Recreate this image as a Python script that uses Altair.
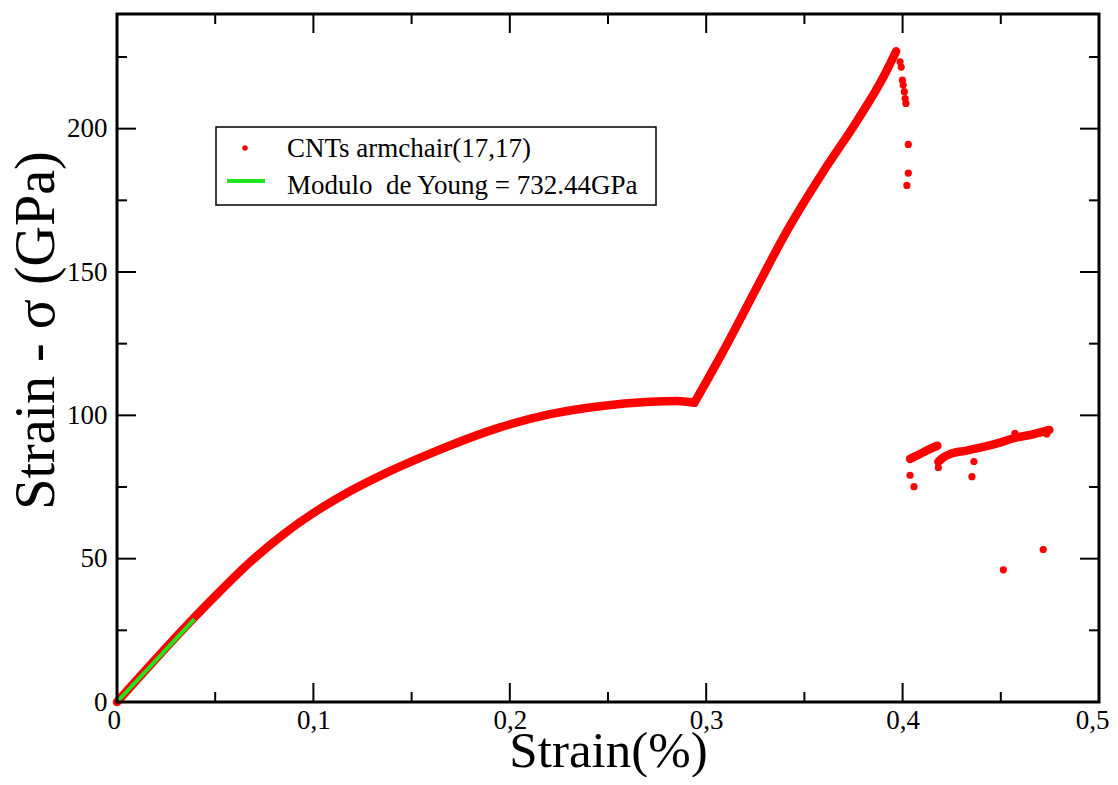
import altair as alt
import pandas as pd

# ---- data ----
# main curve, part 1: elastic region and plastic plateau up to the kink
curve1_strain = [0.0, 0.0394, 0.0509, 0.0679, 0.0849, 0.1018, 0.1188, 0.1358, 0.1527,
                 0.1696, 0.1950, 0.2205, 0.2459, 0.2714, 0.2850, 0.2940]
curve1_stress = [0.0, 29.5, 37.6, 48.9, 58.6, 66.7, 73.6, 79.5, 84.7,
                 89.5, 95.8, 100.4, 103.2, 104.7, 105.0, 104.4]

# main curve, part 2: second stiff rise up to the peak
curve2_strain = [0.2940, 0.3087, 0.3257, 0.3410, 0.3596, 0.3766, 0.3902, 0.3967]
curve2_stress = [104.4, 122.4, 144.5, 164.2, 185.0, 202.5, 218.0, 227.0]

# post-fracture band 1
band1_strain = [0.4038, 0.4070, 0.4106, 0.4140, 0.4177]
band1_stress = [84.8, 85.9, 87.1, 88.3, 89.4]

# post-fracture band 2
band2_strain = [0.4182, 0.4207, 0.4241, 0.4326, 0.4411, 0.4496, 0.4581, 0.4665, 0.4747]
band2_stress = [83.8, 85.3, 86.5, 87.7, 89.0, 90.5, 92.3, 93.4, 94.9]

# scattered points after the peak
drop_strain = [0.3987, 0.3993, 0.3999, 0.4003, 0.4009, 0.4013, 0.4017, 0.4029, 0.4029, 0.4022,
               0.4038, 0.4058, 0.4182, 0.4353, 0.4363, 0.4513, 0.4716, 0.4572, 0.4734]
drop_stress = [223.3, 221.5, 216.9, 215.2, 212.9, 210.5, 208.8, 194.5, 184.5, 180.2,
               79.1, 75.1, 81.8, 78.6, 83.9, 46.1, 53.2, 93.7, 93.5]

# linear fit (Young's modulus)
fit_strain = [0.0, 0.0394]
fit_stress = [0.0, 28.9]

# axis ticks
x_major = [0.0, 0.1, 0.2, 0.3, 0.4, 0.5]
x_minor = [0.05, 0.15, 0.25, 0.35, 0.45]
y_major = [0, 50, 100, 150, 200]
y_minor = [25, 75, 125, 175, 225]

legend_labels = ["CNTs armchair(17,17)", "Modulo\u00a0 de Young = 732.44GPa"]

# ---- build tables ----
segs = []
for k, (xs_, ys_) in enumerate([(curve1_strain, curve1_stress),
                                (curve2_strain, curve2_stress),
                                (band1_strain, band1_stress),
                                (band2_strain, band2_stress)]):
    for i, (a, b) in enumerate(zip(xs_, ys_)):
        segs.append({"strain": a, "stress": b, "seg": k, "idx": i})
df_lines = pd.DataFrame(segs)
df_pts = pd.concat([df_lines[["strain", "stress"]],
                    pd.DataFrame({"strain": drop_strain, "stress": drop_stress})],
                   ignore_index=True)
df_fit = pd.DataFrame({"strain": fit_strain, "stress": fit_stress})

W, H = 982, 688
RED = "#ff0000"
GREEN = "#1ee61e"
FONT = "Liberation Serif"

xs = alt.Scale(domain=[0, 0.5], nice=False, zero=False)
ys = alt.Scale(domain=[0, 240], nice=False, zero=False)

x_axis = alt.Axis(values=x_major, tickSize=0, domain=False, grid=False,
                  labelFlush=True, labelFlushOffset=10,
                  labelFont=FONT, labelFontSize=27, labelColor="black", labelPadding=5,
                  labelExpr="datum.value == 0 ? '0' : replace(format(datum.value, '.1f'), '.', ',')",
                  titleFont=FONT, titleFontSize=51, titleFontWeight="normal",
                  titleColor="black", titleY=64, titleBaseline="alphabetic")
y_axis = alt.Axis(values=y_major, tickSize=0, domain=False, grid=False, labelFlush=False,
                  labelFont=FONT, labelFontSize=27, labelColor="black", labelPadding=10,
                  titleFont=FONT, titleFontSize=56,
                  titleFontWeight="normal", titleColor="black", titleAngle=-90,
                  titleX=-64, titleY=316, titleAlign="center", titleBaseline="alphabetic")


def X():
    return alt.X("strain:Q", scale=xs, axis=x_axis, title="Strain(%)")


def Y():
    return alt.Y("stress:Q", scale=ys, axis=y_axis, title="Strain - σ (GPa)")


lines = alt.Chart(df_lines).mark_line(color=RED, strokeWidth=8.5, strokeCap="round",
                                      strokeJoin="round", interpolate="monotone").encode(
    x=X(), y=Y(), detail="seg:N", order="idx:Q")

pts = alt.Chart(df_pts).mark_circle(color=RED, size=52, opacity=1).encode(x=X(), y=Y())

fit = alt.Chart(df_fit).mark_line(color=GREEN, strokeWidth=4).encode(x=X(), y=Y())


def xticks(vals, y0, y1):
    return alt.Chart(pd.DataFrame({"strain": vals})).mark_rule(color="black", strokeWidth=2).encode(
        x=X(), y=alt.value(y0), y2=alt.value(y1))


def yticks(vals, x0, x1):
    return alt.Chart(pd.DataFrame({"stress": vals})).mark_rule(color="black", strokeWidth=2).encode(
        y=Y(), x=alt.value(x0), x2=alt.value(x1))


ticks = [
    xticks(x_major[1:-1], H, H - 19), xticks(x_minor, H, H - 10),
    xticks(x_major[1:-1], 0, 19), xticks(x_minor, 0, 10),
    yticks(y_major[1:], 0, 19), yticks(y_minor, 0, 10),
    yticks(y_major[1:], W, W - 19), yticks(y_minor, W, W - 10),
]

one = pd.DataFrame({"k": [0]})
frame = alt.Chart(one).mark_rect(fill="white", fillOpacity=0, stroke="black", strokeWidth=3).encode(
    x=alt.value(0), x2=alt.value(W), y=alt.value(0), y2=alt.value(H))
leg_box = alt.Chart(one).mark_rect(fill="white", stroke="black", strokeWidth=1.5).encode(
    x=alt.value(99), x2=alt.value(539), y=alt.value(113), y2=alt.value(191))
leg_dot = alt.Chart(one).mark_circle(color=RED, size=30, opacity=1).encode(
    x=alt.value(128), y=alt.value(134))
leg_line = alt.Chart(one).mark_rule(color=GREEN, strokeWidth=4).encode(
    x=alt.value(110), x2=alt.value(148), y=alt.value(167))
leg_t1 = alt.Chart(one).mark_text(text=legend_labels[0], font=FONT, fontSize=27, align="left",
                                  baseline="alphabetic", color="black").encode(
    x=alt.value(170), y=alt.value(143))
leg_t2 = alt.Chart(one).mark_text(text=legend_labels[1], font=FONT, fontSize=27, align="left",
                                  baseline="alphabetic", color="black").encode(
    x=alt.value(170), y=alt.value(180))

chart = alt.layer(lines, pts, fit, *ticks, frame, leg_box, leg_dot, leg_line, leg_t1, leg_t2).properties(
    width=W, height=H,
    autosize=alt.AutoSizeParams(type="none"),
    padding={"left": 109, "top": 6, "right": 10, "bottom": 75},
).configure_view(stroke=None).configure(background="white")

chart.save("out.html", embed_options={"renderer": "svg", "actions": False})
